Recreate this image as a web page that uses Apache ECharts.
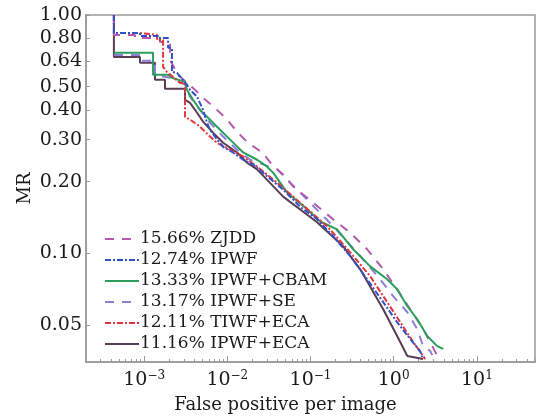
<!DOCTYPE html>
<html><head><meta charset="utf-8">
<script src="https://cdn.jsdelivr.net/npm/echarts@6/dist/echarts.min.js"></script>
<style>html,body{margin:0;padding:0;background:#fff}#c{width:537px;height:420px}</style>
</head><body><div id="c"></div>
<script>
const seriesNames = ['15.66% ZJDD','12.74% IPWF','13.33% IPWF+CBAM','13.17% IPWF+SE','12.11% TIWF+ECA','11.16% IPWF+ECA'];

const zjddX = [4.33e-4,4.33e-4,7.76e-4,7.76e-4,1.55e-3,1.55e-3,2.05e-3,2.05e-3,2.55e-3,3.27e-3,4.09e-3,5.11e-3,7.52e-3,9.93e-3,0.0131,0.0177,0.0262,0.0345,0.0469,0.0618,0.108,0.187,0.300,0.480,0.748,1.10,1.58,2.26,2.91,3.34,3.44];
const zjddY = [1.0,0.825,0.825,0.801,0.801,0.771,0.771,0.648,0.561,0.519,0.486,0.449,0.400,0.364,0.324,0.291,0.265,0.236,0.214,0.191,0.163,0.139,0.122,0.104,0.0857,0.0707,0.0583,0.0481,0.0408,0.0371,0.0360];

const ipwfX = [4.33e-4,4.33e-4,8.91e-4,8.91e-4,1.47e-3,1.47e-3,1.94e-3,1.94e-3,2.16e-3,2.16e-3,2.48e-3,3.27e-3,3.56e-3,4.33e-3,5.11e-3,5.70e-3,6.19e-3,7.52e-3,8.89e-3,0.0117,0.0155,0.0204,0.0469,0.0750,0.120,0.187,0.300,0.480,0.748,1.10,1.58,2.08,2.20];
const ipwfY = [1.0,0.841,0.841,0.817,0.817,0.801,0.801,0.728,0.728,0.577,0.572,0.510,0.486,0.454,0.400,0.353,0.330,0.300,0.280,0.265,0.247,0.236,0.185,0.157,0.139,0.118,0.0975,0.0778,0.0624,0.0514,0.0437,0.0389,0.0367];

const cbamX = [4.33e-4,1.28e-3,1.28e-3,1.94e-3,2.16e-3,3.10e-3,3.27e-3,3.87e-3,4.70e-3,5.70e-3,7.52e-3,0.0108,0.0155,0.0228,0.0301,0.0355,0.0524,0.0910,0.131,0.209,0.326,0.522,0.836,1.10,1.46,1.92,2.53,3.34,3.94];
const cbamY = [0.694,0.694,0.561,0.561,0.545,0.524,0.486,0.441,0.400,0.374,0.340,0.300,0.265,0.247,0.231,0.218,0.180,0.153,0.136,0.126,0.104,0.0882,0.0778,0.0707,0.0600,0.0529,0.0450,0.0408,0.0397];

const seX = [4.33e-4,8.91e-4,8.91e-4,1.35e-3,1.35e-3,2.05e-3,3.10e-3,3.56e-3,4.70e-3,6.19e-3,8.89e-3,0.0131,0.0188,0.0396,0.0750,0.187,0.396,0.689,0.986,1.46,1.92,2.26,2.75,2.91];
const seY = [0.680,0.680,0.642,0.642,0.561,0.545,0.510,0.454,0.400,0.353,0.309,0.272,0.247,0.225,0.180,0.130,0.0975,0.0778,0.0661,0.0566,0.0481,0.0408,0.0389,0.0374];

const tiwfX = [4.33e-4,4.33e-4,8.91e-4,8.91e-4,1.43e-3,1.43e-3,1.69e-3,1.69e-3,1.88e-3,2.70e-3,3.10e-3,3.10e-3,3.56e-3,4.70e-3,6.19e-3,7.52e-3,0.0108,0.0155,0.0228,0.0396,0.0750,0.158,0.300,0.522,0.836,1.20,1.72,2.26,2.39];
const tiwfY = [1.0,0.841,0.841,0.825,0.825,0.786,0.786,0.606,0.577,0.519,0.519,0.374,0.364,0.340,0.309,0.291,0.272,0.255,0.231,0.198,0.163,0.130,0.101,0.0801,0.0624,0.0514,0.0424,0.0371,0.0360];

const ecaX = [4.33e-4,4.33e-4,8.91e-4,8.91e-4,1.35e-3,1.35e-3,1.78e-3,1.78e-3,3.10e-3,3.10e-3,3.56e-3,4.33e-3,5.11e-3,6.73e-3,8.89e-3,0.0131,0.0173,0.0228,0.0469,0.120,0.247,0.396,0.748,1.10,1.46,2.26];
const ecaY = [1.0,0.667,0.667,0.630,0.630,0.535,0.535,0.490,0.490,0.441,0.428,0.389,0.357,0.321,0.291,0.265,0.240,0.225,0.173,0.135,0.107,0.0857,0.0583,0.0450,0.0371,0.0360];

const yTickValues = [0.05,0.1,0.2,0.3,0.4,0.5,0.64,0.8,1.0];
const xMajorTicks = [1e-3,1e-2,1e-1,1,10];
const xRange = [2e-4, 50];
const yRange = [0.035, 1];

const xMinorTicks = [];
for (let e = -4; e <= 1; e++) {
  for (let m = 2; m <= 9; m++) {
    const v = m * Math.pow(10, e);
    if (v >= xRange[0] && v <= xRange[1]) xMinorTicks.push(+v.toPrecision(3));
  }
}

const colors = ['#b55aae','#3050cc','#2a9e5c','#8c80d6','#e0363c','#5a3c55'];
const dashes = [[9,8],[6,2,2,2],'solid',[9,8],[6,2,2,2],'solid'];
const xs = [zjddX, ipwfX, cbamX, seX, tiwfX, ecaX];
const ys = [zjddY, ipwfY, cbamY, seY, tiwfY, ecaY];
const zs = [3,6,4,2,5,1];

const FONT = 'DejaVu Serif';
const axisColor = '#9a9a9a';

const series = seriesNames.map((n, i) => ({
  name: n, type: 'line', xAxisIndex: 0, yAxisIndex: 0,
  symbol: 'none', z: zs[i],
  data: xs[i].map((x, j) => [x, ys[i][j]]),
  lineStyle: { color: colors[i], width: 2, type: dashes[i] },
  itemStyle: { color: colors[i] }
}));

const chart = echarts.init(document.getElementById('c'));
chart.setOption({
  animation: false,
  color: colors,
  grid: { left: 86, top: 15, right: 2, bottom: 58, show: true, borderColor: axisColor, borderWidth: 1.5 },
  legend: {
    orient: 'vertical', left: 99, top: 225,
    itemWidth: 34, itemHeight: 12, itemGap: 3,
    itemStyle: { opacity: 0 },
    textStyle: { fontFamily: FONT, fontSize: 17, color: '#1a1a1a', lineHeight: 18, padding: [0,0,0,-4] },
    data: seriesNames
  },
  xAxis: [{
    type: 'log', min: xRange[0], max: xRange[1], position: 'bottom',
    name: 'False positive per image', nameLocation: 'middle', nameGap: 34,
    nameTextStyle: { fontFamily: FONT, fontSize: 18, color: '#1a1a1a', padding: [0, 50, 0, 0] },
    axisLine: { lineStyle: { color: axisColor, width: 1.5 } },
    splitLine: { show: false },
    axisTick: { inside: true, length: 3, customValues: xMinorTicks, lineStyle: { color: axisColor } },
    axisLabel: {
      customValues: xMajorTicks, margin: 8,
      formatter: v => { const e = Math.round(Math.log10(v)); return '{b|10}{s|' + (e < 0 ? '\u2212' + (-e) : e) + '}'; },
      rich: {
        b: { fontFamily: FONT, fontSize: 19, color: '#1a1a1a', lineHeight: 20 },
        s: { fontFamily: FONT, fontSize: 12, color: '#1a1a1a', lineHeight: 10, verticalAlign: 'top' }
      }
    }
  }, {
    type: 'log', min: xRange[0], max: xRange[1], position: 'bottom',
    axisLine: { show: false }, splitLine: { show: false },
    axisTick: { inside: true, length: 6, customValues: xMajorTicks, lineStyle: { color: axisColor } },
    axisLabel: { show: false }
  }],
  yAxis: {
    type: 'log', min: yRange[0], max: yRange[1],
    name: 'MR', nameLocation: 'middle', nameGap: 52, nameRotate: 90, nameMoveOverlap: false,
    nameTextStyle: { fontFamily: FONT, fontSize: 18, color: '#1a1a1a' },
    axisLine: { lineStyle: { color: axisColor, width: 1.5 } },
    splitLine: { show: false },
    axisTick: { inside: true, length: 4, customValues: yTickValues, lineStyle: { color: axisColor } },
    axisLabel: {
      customValues: yTickValues, margin: 4,
      fontFamily: FONT, fontSize: 19, color: '#1a1a1a',
      formatter: v => v.toFixed(2)
    }
  },
  series: series
});
</script></body></html>
